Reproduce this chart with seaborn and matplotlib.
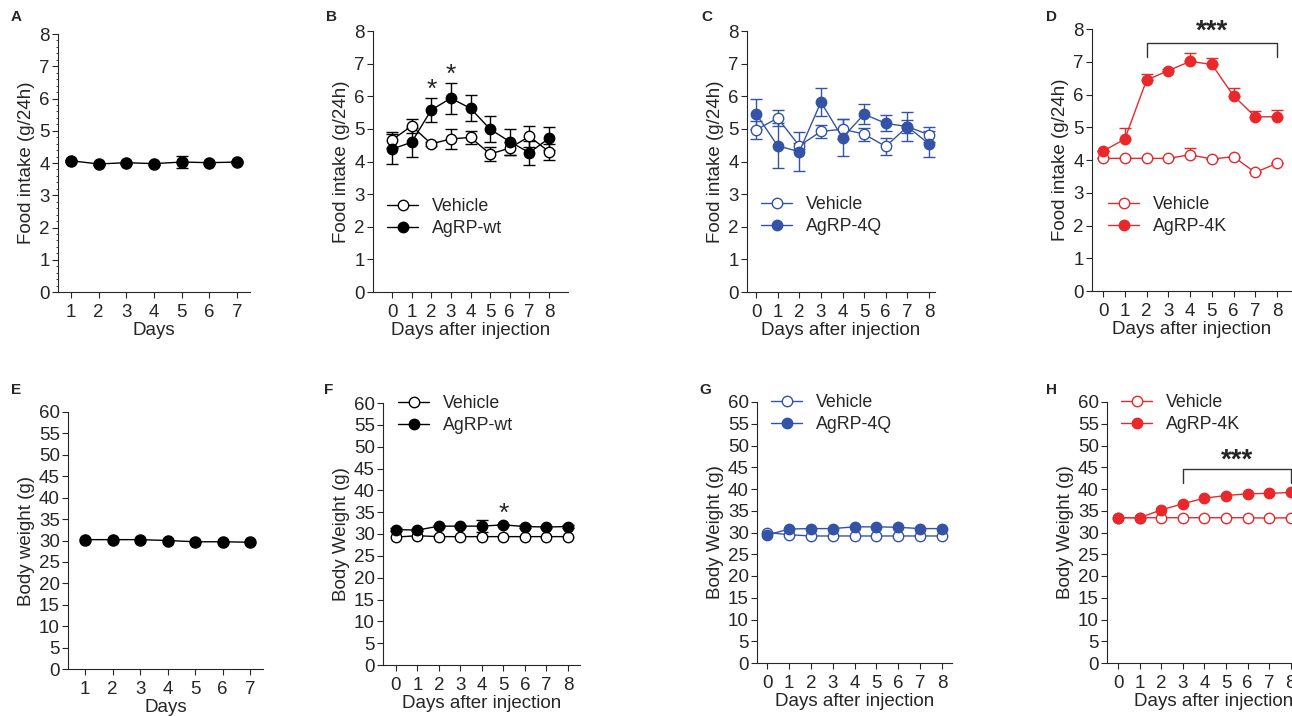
import numpy as np
import pandas as pd
import seaborn as sns
import matplotlib.pyplot as plt

# ---- data ----
days_a = [1, 2, 3, 4, 5, 6, 7]
food_a = [4.07, 3.97, 4.01, 3.98, 4.03, 4.01, 4.03]
food_a_err = [0.03, 0.03, 0.03, 0.03, 0.18, 0.03, 0.03]
bw_e = [30.2, 30.2, 30.2, 30.0, 29.7, 29.7, 29.6]

days = [0, 1, 2, 3, 4, 5, 6, 7, 8]

food_b_veh = [4.66, 5.09, 4.54, 4.69, 4.74, 4.23, 4.41, 4.77, 4.30]
food_b_veh_err = [0.25, 0.22, 0.05, 0.32, 0.2, 0.2, 0.2, 0.32, 0.25]
food_b_wt = [4.38, 4.59, 5.58, 5.94, 5.63, 4.99, 4.61, 4.27, 4.71]
food_b_wt_err = [0.47, 0.44, 0.36, 0.48, 0.4, 0.4, 0.4, 0.37, 0.36]

food_c_veh = [4.97, 5.33, 4.48, 4.92, 4.99, 4.84, 4.46, 5.07, 4.82]
food_c_veh_err = [0.27, 0.25, 0.1, 0.2, 0.3, 0.2, 0.25, 0.2, 0.23]
food_c_4q = [5.46, 4.48, 4.30, 5.82, 4.73, 5.45, 5.17, 5.07, 4.54]
food_c_4q_err = [0.47, 0.69, 0.6, 0.43, 0.56, 0.3, 0.25, 0.45, 0.39]

food_d_veh = [4.05, 4.05, 4.05, 4.05, 4.16, 4.03, 4.10, 3.62, 3.90]
food_d_veh_err = [0.0, 0.0, 0.0, 0.0, 0.2, 0.0, 0.0, 0.0, 0.0]
food_d_4k = [4.27, 4.64, 6.44, 6.73, 7.01, 6.92, 5.96, 5.32, 5.32]
food_d_4k_err = [0.0, 0.33, 0.18, 0.05, 0.25, 0.18, 0.25, 0.18, 0.2]

bw_f_veh = [29.3, 29.6, 29.4, 29.4, 29.4, 29.4, 29.4, 29.4, 29.4]
bw_f_wt = [31.0, 30.9, 31.8, 31.8, 31.8, 32.1, 31.7, 31.6, 31.7]
bw_f_wt_err = [0.3, 0.3, 0.3, 0.3, 1.3, 0.3, 0.3, 0.3, 0.3]

bw_g_veh = [30.0, 29.5, 29.2, 29.2, 29.2, 29.2, 29.2, 29.2, 29.2]
bw_g_4q = [29.4, 30.8, 30.9, 30.9, 31.3, 31.3, 31.2, 30.9, 30.9]

bw_h_veh = [33.4, 33.4, 33.4, 33.4, 33.4, 33.4, 33.4, 33.3, 33.4]
bw_h_4k = [33.4, 33.4, 35.2, 36.6, 37.9, 38.5, 38.9, 39.0, 39.2]

BLACK = "black"
BLUE = "#3553a6"
RED = "#e8282b"

sns.set_style("ticks")
plt.rcParams["font.family"] = ["Liberation Sans", "DejaVu Sans"]
plt.rcParams["axes.linewidth"] = 0.8
plt.rcParams["xtick.major.width"] = 0.8
plt.rcParams["ytick.major.width"] = 0.8
plt.rcParams["xtick.major.size"] = 4.3
plt.rcParams["ytick.major.size"] = 4.3

W, H = 1292, 716
fig = plt.figure(figsize=(W / 100, H / 100), dpi=100)


def make_ax(left, right, top, bottom):
    return fig.add_axes([left / W, 1 - bottom / H, (right - left) / W, (bottom - top) / H])


def series(ax, x, y, color, filled, label=None, err=None, up_only=False, ms=7.5):
    if err is not None:
        yerr = [np.zeros(len(err)), err] if up_only else err
        ax.errorbar(x, y, yerr=yerr, fmt="none", ecolor=color, elinewidth=1,
                    capsize=4, capthick=1, zorder=2)
    df = pd.DataFrame({"x": x, "y": y})
    sns.lineplot(data=df, x="x", y="y", ax=ax, color=color, marker="o",
                 markersize=ms, markeredgecolor=color, markeredgewidth=1,
                 markerfacecolor=color if filled else "white", linewidth=1,
                 label=label, zorder=3)


def style(ax, xlim, ylim, yticks, xticks, xlabel, ylabel):
    ax.set_xlim(*xlim)
    ax.set_ylim(*ylim)
    ax.set_xticks(xticks)
    ax.set_yticks(yticks)
    ax.tick_params(axis="x", labelsize=13.5, pad=4)
    ax.tick_params(axis="y", labelsize=13.5, pad=1.5)
    ax.set_xlabel(xlabel, fontsize=13.5, labelpad=1)
    ax.set_ylabel(ylabel, fontsize=13.5, labelpad=3)
    sns.despine(ax=ax)


def leg(ax, x, y):
    ax.legend(loc="upper left", bbox_to_anchor=(x / W, 1 - y / H),
              bbox_transform=fig.transFigure, frameon=False, fontsize=12.8,
              handlelength=1.75, handletextpad=0.8, labelspacing=0.3,
              borderpad=0, borderaxespad=0)


def bracket(ax, x0, x1, ytop, ybot, ystar):
    ax.plot([x0, x0, x1, x1], [ybot, ytop, ytop, ybot], color="#333333", lw=1)
    ax.text((x0 + x1) / 2, ystar, "***", ha="center", va="center",
            fontsize=20, fontweight="bold")


# ---- A ----
ax = make_ax(58, 250, 34, 292)
series(ax, days_a, food_a, BLACK, True, err=food_a_err, ms=8)
style(ax, (0.53, 7.47), (0, 8), range(0, 9), days_a, "Days", "Food intake (g/24h)")
ax.set_yticks(np.arange(0, 8.01, 0.2), minor=True)
ax.tick_params(axis="y", which="minor", length=1.5, width=0.6)

# ---- B ----
ax = make_ax(373, 568, 31, 292)
series(ax, days, food_b_veh, BLACK, False, "Vehicle", food_b_veh_err)
series(ax, days, food_b_wt, BLACK, True, "AgRP-wt", food_b_wt_err)
style(ax, (-0.97, 8.97), (0, 8), range(0, 9), days, "Days after injection",
      "Food intake (g/24h)")
leg(ax, 387, 198)
for d, ys in [(2, 6.2), (3, 6.66)]:
    ax.text(d, ys, "*", ha="center", va="center", fontsize=19)

# ---- C ----
ax = make_ax(747, 935, 31, 292)
series(ax, days, food_c_veh, BLUE, False, "Vehicle", food_c_veh_err)
series(ax, days, food_c_4q, BLUE, True, "AgRP-4Q", food_c_4q_err)
style(ax, (-0.42, 8.28), (0, 8), range(0, 9), days, "Days after injection",
      "Food intake (g/24h)")
leg(ax, 761, 196)

# ---- D ----
ax = make_ax(1092, 1292, 29, 291)
series(ax, days, food_d_veh, RED, False, "Vehicle", food_d_veh_err, up_only=True)
series(ax, days, food_d_4k, RED, True, "AgRP-4K", food_d_4k_err, up_only=True)
style(ax, (-0.51, 8.69), (0, 8), range(0, 9), days, "Days after injection",
      "Food intake (g/24h)")
leg(ax, 1108, 196)
bracket(ax, 2, 8, 7.57, 7.16, 7.92)

# ---- E ----
ax = make_ax(68, 263, 412, 669)
series(ax, days_a, bw_e, BLACK, True, ms=8)
style(ax, (0.38, 7.47), (0, 60), range(0, 61, 5), days_a, "Days", "Body weight (g)")

# ---- F ----
ax = make_ax(383, 580, 403, 665)
series(ax, days, bw_f_veh, BLACK, False, "Vehicle")
series(ax, days, bw_f_wt, BLACK, True, "AgRP-wt", bw_f_wt_err)
style(ax, (-0.6, 8.56), (0, 60), range(0, 61, 5), days, "Days after injection",
      "Body Weight (g)")
leg(ax, 398, 395)
ax.text(5, 34.5, "*", ha="center", va="center", fontsize=19)

# ---- G ----
ax = make_ax(757, 952, 402, 663)
series(ax, days, bw_g_veh, BLUE, False, "Vehicle")
series(ax, days, bw_g_4q, BLUE, True, "AgRP-4Q")
style(ax, (-0.46, 8.46), (0, 60), range(0, 61, 5), days, "Days after injection",
      "Body Weight (g)")
leg(ax, 771, 394)

# ---- H ----
ax = make_ax(1107, 1320, 402, 663)
series(ax, days, bw_h_veh, RED, False, "Vehicle")
series(ax, days, bw_h_4k, RED, True, "AgRP-4K")
style(ax, (-0.51, 9.35), (0, 60), range(0, 61, 5), days, "Days after injection",
      "Body Weight (g)")
leg(ax, 1121, 394)
bracket(ax, 3, 8, 44.6, 41.3, 46.6)

# panel letters
for letter, (x, y) in {"A": (11, 17), "B": (326, 17), "C": (701, 17), "D": (1046, 17),
                       "E": (11, 390), "F": (324, 390), "G": (699, 390),
                       "H": (1046, 390)}.items():
    fig.text(x / W, 1 - y / H, letter, fontsize=11, fontweight="bold",
             ha="left", va="center")

fig.savefig("out.png", dpi=100)
